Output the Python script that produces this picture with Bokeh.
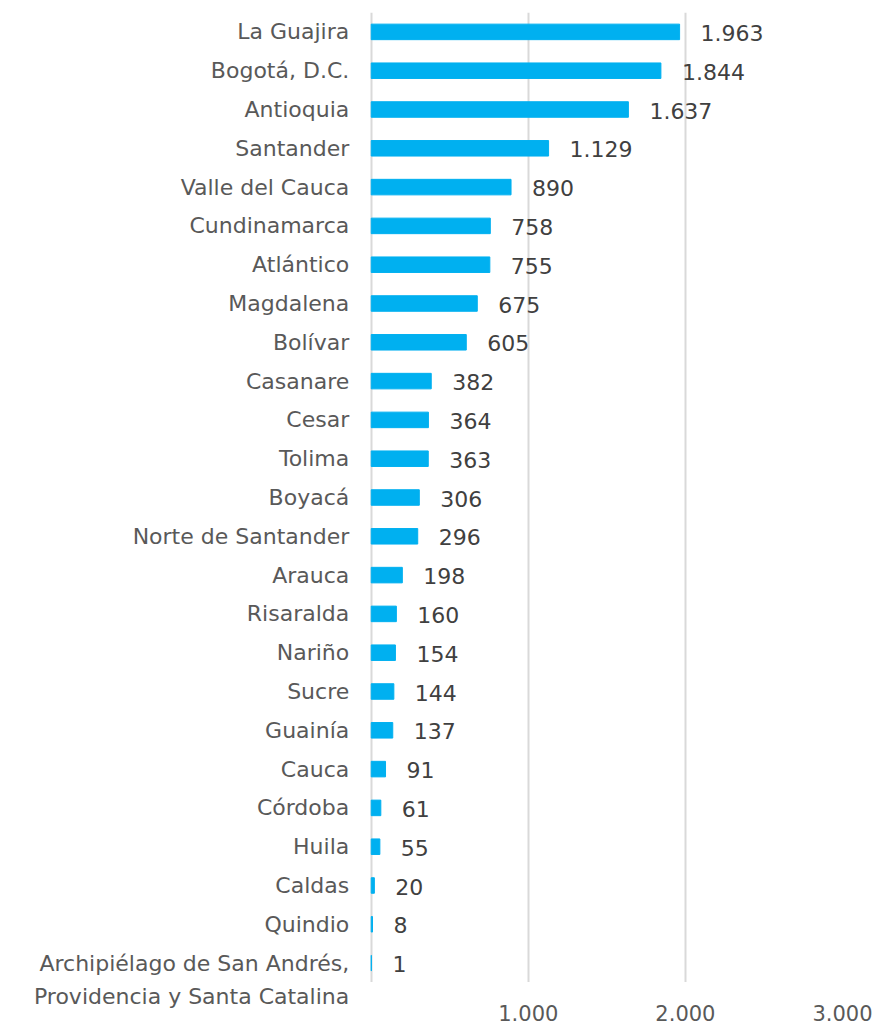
from bokeh.plotting import figure
from bokeh.models import FactorRange, Range1d, FixedTicker, ColumnDataSource
from bokeh.layouts import column
from bokeh.core.properties import value
from bokeh.embed import file_html
from bokeh.resources import INLINE

departamentos = [
    "La Guajira", "Bogotá, D.C.", "Antioquia", "Santander", "Valle del Cauca",
    "Cundinamarca", "Atlántico", "Magdalena", "Bolívar", "Casanare", "Cesar",
    "Tolima", "Boyacá", "Norte de Santander", "Arauca", "Risaralda", "Nariño",
    "Sucre", "Guainía", "Cauca", "Córdoba", "Huila", "Caldas", "Quindio",
    "Archipiélago de San Andrés, Providencia y Santa Catalina",
]
valores = [1963, 1844, 1637, 1129, 890, 758, 755, 675, 605, 382, 364, 363, 306,
           296, 198, 160, 154, 144, 137, 91, 61, 55, 20, 8, 1]
etiquetas_valor = ["1.963", "1.844", "1.637", "1.129", "890", "758", "755", "675",
                   "605", "382", "364", "363", "306", "296", "198", "160", "154",
                   "144", "137", "91", "61", "55", "20", "8", "1"]
ticks_x = [1000, 2000, 3000]
ticks_x_labels = ["1.000", "2.000", "3.000"]

FONT = "DejaVu Sans"
GRAY = "#595959"

src = ColumnDataSource(dict(cat=departamentos, val=valores, lab=etiquetas_valor))

# category label lines (last category wraps onto a second line, drawn below)
primera_linea = [c if not c.startswith("Archipiélago") else "Archipiélago de San Andrés,"
                 for c in departamentos]
segunda_linea = "Providencia y Santa Catalina"
src_cat = ColumnDataSource(dict(cat=departamentos, txt=primera_linea,
                                x0=[0] * len(departamentos)))

x_range = Range1d(-2360, 3000)   # left part holds the category labels

p = figure(
    y_range=FactorRange(factors=list(reversed(departamentos)), range_padding=0),
    x_range=x_range,
    frame_width=842, frame_height=970,
    min_border_left=0, min_border_right=32, min_border_top=12, min_border_bottom=0,
    x_axis_location=None, y_axis_location=None,
    output_backend="svg", toolbar_location=None,
)
p.outline_line_color = None
p.background_fill_color = "white"

p.hbar(y="cat", right="val", left=0, height=0.4, source=src,
       fill_color="#00B0F0", line_color="#00B0F0", line_width=1)

p.text(x="val", y="cat", text="lab", source=src, x_offset=21, y_offset=1,
       text_align="left", text_baseline="middle", text_font=value(FONT),
       text_font_size="22px", text_color="#404040")

p.text(x="x0", y="cat", text="txt", source=src_cat, x_offset=-22, y_offset=0,
       text_align="right", text_baseline="middle", text_font=value(FONT),
       text_font_size="22px", text_color=GRAY)

p.ygrid.grid_line_color = None
p.xgrid.ticker = FixedTicker(ticks=[0] + ticks_x)
p.xgrid.grid_line_color = "#D9D9D9"
p.xgrid.grid_line_width = 2

# bottom strip: second line of the last label + the x axis
p2 = figure(
    x_range=x_range, y_range=Range1d(0, 1),
    frame_width=842, frame_height=30,
    min_border_left=0, min_border_right=32, min_border_top=0, min_border_bottom=14,
    y_axis_location=None,
    output_backend="svg", toolbar_location=None,
)
p2.outline_line_color = None
p2.xgrid.grid_line_color = None
p2.ygrid.grid_line_color = None
p2.text(x=[0], y=[0.55], text=[segunda_linea], x_offset=-22,
        text_align="right", text_baseline="middle", text_font=value(FONT),
        text_font_size="22px", text_color=GRAY)

p2.xaxis.ticker = FixedTicker(ticks=ticks_x)
p2.xaxis.major_label_overrides = {t: l for t, l in zip(ticks_x, ticks_x_labels)}
p2.xaxis.axis_line_color = None
p2.xaxis.major_tick_line_color = None
p2.xaxis.minor_tick_line_color = None
p2.xaxis.major_label_standoff = -14
p2.xaxis.major_label_text_font = FONT
p2.xaxis.major_label_text_font_size = "21px"
p2.xaxis.major_label_text_color = GRAY

layout = column(p, p2, spacing=0)
open("out.html", "w").write(file_html(layout, INLINE))
